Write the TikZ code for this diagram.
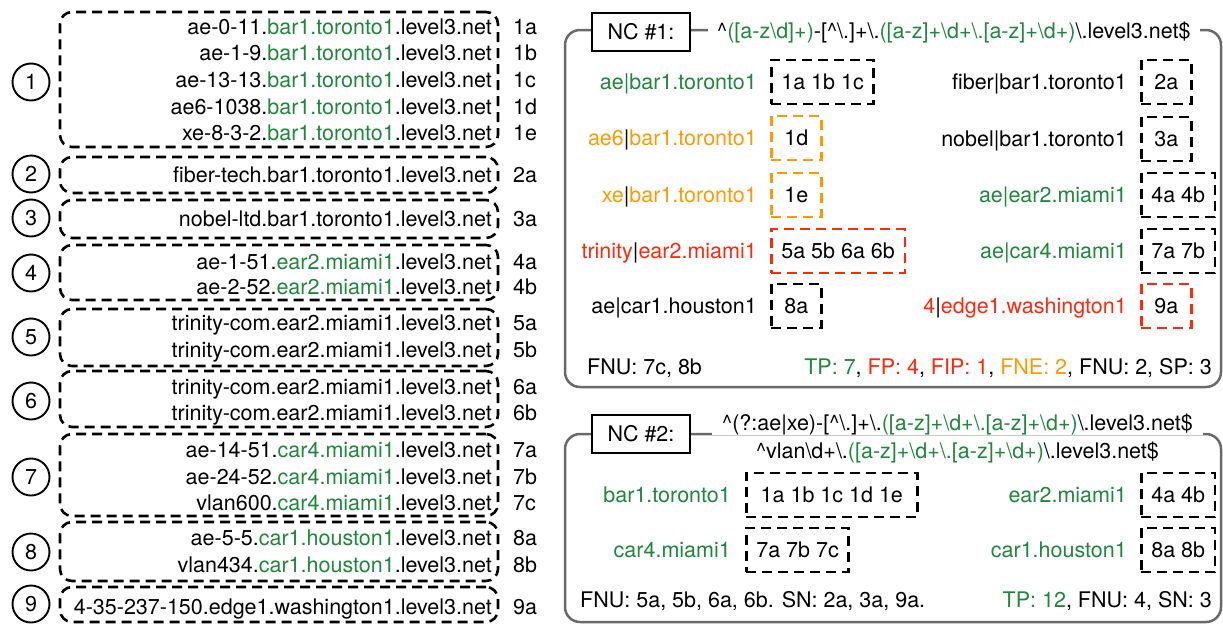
\documentclass[tikz,border=0pt]{standalone}
\usepackage{fontspec}
\setmainfont{TeX Gyre Heros}
\usepackage{tikz}
\usetikzlibrary{positioning}

\definecolor{ncgreen}{RGB}{30,135,60}
\definecolor{ncorange}{RGB}{255,153,0}
\definecolor{ncred}{RGB}{255,40,10}
\definecolor{ncgray}{RGB}{105,105,105}

\newcommand{\cgreen}[1]{\textcolor{ncgreen}{#1}}
\newcommand{\corange}[1]{\textcolor{ncorange}{#1}}
\newcommand{\cred}[1]{\textcolor{ncred}{#1}}
\newcommand{\bsl}{\textbackslash}
\newcommand{\crt}{\textasciicircum}
\newcommand{\vb}{\textcolor{black}{\textbar}}

\begin{document}
\begin{tikzpicture}[x=1pt,y=-1pt,
  font=\fontsize{21.5}{26.6}\selectfont,
  txt/.style={inner sep=0pt, text height=15.5pt, text depth=0pt},
  num/.style={circle, draw, line width=1.9pt, minimum size=37pt, inner sep=0pt},
  grpbox/.style={draw, dash pattern=on 10pt off 6pt, line width=2.6pt, rounded corners=12pt, minimum width=438pt, inner sep=0pt},
  hit/.style={draw, dash pattern=on 10pt off 6pt, line width=2.6pt, minimum height=44pt, minimum width=50pt, inner xsep=10pt, text height=15.5pt, text depth=0pt},
  ncframe/.style={draw=ncgray, line width=2.5pt, rounded corners=15pt},
  nctitle/.style={draw, fill=white, line width=2pt, minimum width=98pt, minimum height=38pt, text height=15.5pt, text depth=0pt}]

\useasboundingbox (0,0) rectangle (1223,624);

% left column: groups of hostnames
\foreach \i/\y in {1/82,2/174,3/218,4/273,5/337,6/401,7/477,8/552,9/604}
  \node[num] (c\i) at (31,\y) {\i};

\node[grpbox, minimum height=135pt] (g1) at (279,79.5) {};
\node[grpbox, minimum height=36pt] (g2) at (279,175) {};
\node[grpbox, minimum height=38pt] (g3) at (279,219) {};
\node[grpbox, minimum height=55pt] (g4) at (279,272.5) {};
\node[grpbox, minimum height=57pt] (g5) at (279,337.5) {};
\node[grpbox, minimum height=56pt] (g6) at (279,399) {};
\node[grpbox, minimum height=82pt] (g7) at (279,475) {};
\node[grpbox, minimum height=59pt] (g8) at (279,551.5) {};
\node[grpbox, minimum height=35pt] (g9) at (279,604.5) {};

\node[txt, anchor=east] (r1a) at (492,27) {ae-0-11.\cgreen{bar1.toronto1}.level3.net};
\node[txt, anchor=east] (r1b) at (492,53) {ae-1-9.\cgreen{bar1.toronto1}.level3.net};
\node[txt, anchor=east] (r1c) at (492,80) {ae-13-13.\cgreen{bar1.toronto1}.level3.net};
\node[txt, anchor=east] (r1d) at (492,107) {ae6-1038.\cgreen{bar1.toronto1}.level3.net};
\node[txt, anchor=east] (r1e) at (492,133) {xe-8-3-2.\cgreen{bar1.toronto1}.level3.net};
\node[txt, anchor=east] (r2a) at (492,175) {fiber-tech.bar1.toronto1.level3.net};
\node[txt, anchor=east] (r3a) at (492,219) {nobel-ltd.bar1.toronto1.level3.net};
\node[txt, anchor=east] (r4a) at (492,262) {ae-1-51.\cgreen{ear2.miami1}.level3.net};
\node[txt, anchor=east] (r4b) at (492,287) {ae-2-52.\cgreen{ear2.miami1}.level3.net};
\node[txt, anchor=east] (r5a) at (492,323) {trinity-com.ear2.miami1.level3.net};
\node[txt, anchor=east] (r5b) at (492,350) {trinity-com.ear2.miami1.level3.net};
\node[txt, anchor=east] (r6a) at (492,387) {trinity-com.ear2.miami1.level3.net};
\node[txt, anchor=east] (r6b) at (492,413) {trinity-com.ear2.miami1.level3.net};
\node[txt, anchor=east] (r7a) at (492,450) {ae-14-51.\cgreen{car4.miami1}.level3.net};
\node[txt, anchor=east] (r7b) at (492,477) {ae-24-52.\cgreen{car4.miami1}.level3.net};
\node[txt, anchor=east] (r7c) at (492,503) {vlan600.\cgreen{car4.miami1}.level3.net};
\node[txt, anchor=east] (r8a) at (492,538) {ae-5-5.\cgreen{car1.houston1}.level3.net};
\node[txt, anchor=east] (r8b) at (492,565) {vlan434.\cgreen{car1.houston1}.level3.net};
\node[txt, anchor=east] (r9a) at (492,607) {4-35-237-150.edge1.washington1.level3.net};

\foreach \r in {1a,1b,1c,1d,1e,2a,3a,4a,4b,5a,5b,6a,6b,7a,7b,7c,8a,8b,9a}
  \node[txt, right=21pt of r\r] (l\r) {\r};

% NC #1
\draw[ncframe] (565,30) rectangle (1221,387);
\node[nctitle] (t1) at (641,31.5) {NC \#1:};
\node[txt, fill=white, inner xsep=9pt, inner ysep=4pt, anchor=west] (re1) at (708,31)
  {\crt\cgreen{([a-z\bsl d]+)}-[\crt\bsl.]+\bsl.\cgreen{([a-z]+\bsl d+\bsl.[a-z]+\bsl d+)}\bsl.level3.net\$};

\node[txt, anchor=east] (n1) at (757,82) {\cgreen{ae\textbar bar1.toronto1}};
\node[hit, right=13pt of n1] (h1) {1a 1b 1c};
\node[txt, anchor=east] (n2) at (757,138) {\corange{ae6\vb bar1.toronto1}};
\node[hit, draw=ncorange, right=13pt of n2] (h2) {1d};
\node[txt, anchor=east] (n3) at (757,195) {\corange{xe\vb bar1.toronto1}};
\node[hit, draw=ncorange, right=13pt of n3] (h3) {1e};
\node[txt, anchor=east] (n4) at (757,251) {\cred{trinity\vb ear2.miami1}};
\node[hit, draw=ncred, right=13pt of n4] (h4) {5a 5b 6a 6b};
\node[txt, anchor=east] (n5) at (757,306) {ae\textbar car1.houston1};
\node[hit, right=13pt of n5] (h5) {8a};

\node[txt, anchor=east] (m1) at (1127,82) {fiber\textbar bar1.toronto1};
\node[hit, right=13pt of m1] (k1) {2a};
\node[txt, anchor=east] (m2) at (1127,139) {nobel\textbar bar1.toronto1};
\node[hit, right=13pt of m2] (k2) {3a};
\node[txt, anchor=east] (m3) at (1127,195) {\cgreen{ae\textbar ear2.miami1}};
\node[hit, right=13pt of m3] (k3) {4a 4b};
\node[txt, anchor=east] (m4) at (1127,251) {\cgreen{ae\textbar car4.miami1}};
\node[hit, right=13pt of m4] (k4) {7a 7b};
\node[txt, anchor=east] (m5) at (1127,306) {\cred{4\vb edge1.washington1}};
\node[hit, draw=ncred, right=13pt of m5] (k5) {9a};

\node[txt, anchor=west] (f1) at (587,367) {FNU: 7c, 8b};
\node[txt, anchor=east] (s1) at (1212,367) {\cgreen{TP: 7}, \cred{FP: 4}, \cred{FIP: 1}, \corange{FNE: 2}, FNU: 2, SP: 3};

% NC #2
\draw[ncframe] (565,434) rectangle (1221,622);
\node[nctitle] (t2) at (641,434) {NC \#2:};
\node[txt, fill=white, inner xsep=10pt, inner ysep=4pt, anchor=west] (re2a) at (712,423)
  {\crt(?:ae\textbar xe)-[\crt\bsl.]+\bsl.\cgreen{([a-z]+\bsl d+\bsl.[a-z]+\bsl d+)}\bsl.level3.net\$};
\node[txt, fill=white, inner xsep=10pt, inner ysep=4pt, below=3.5pt of re2a] (re2b)
  {\crt vlan\bsl d+\bsl.\cgreen{([a-z]+\bsl d+\bsl.[a-z]+\bsl d+)}\bsl.level3.net\$};

\node[txt, anchor=east] (p1) at (731,495) {\cgreen{bar1.toronto1}};
\node[hit, minimum width=171pt, right=14pt of p1] (q1) {1a 1b 1c 1d 1e};
\node[txt, anchor=east] (p2) at (731,550) {\cgreen{car4.miami1}};
\node[hit, right=14pt of p2] (q2) {7a 7b 7c};
\node[txt, anchor=east] (p3) at (1127,495) {\cgreen{ear2.miami1}};
\node[hit, right=13pt of p3] (q3) {4a 4b};
\node[txt, anchor=east] (p4) at (1127,550) {\cgreen{car1.houston1}};
\node[hit, right=13pt of p4] (q4) {8a 8b};

\node[txt, anchor=west] (f2) at (580,600) {FNU: 5a, 5b, 6a, 6b. SN: 2a, 3a, 9a.};
\node[txt, anchor=east] (s2) at (1212,600) {\cgreen{TP: 12}, FNU: 4, SN: 3};

\end{tikzpicture}
\end{document}
